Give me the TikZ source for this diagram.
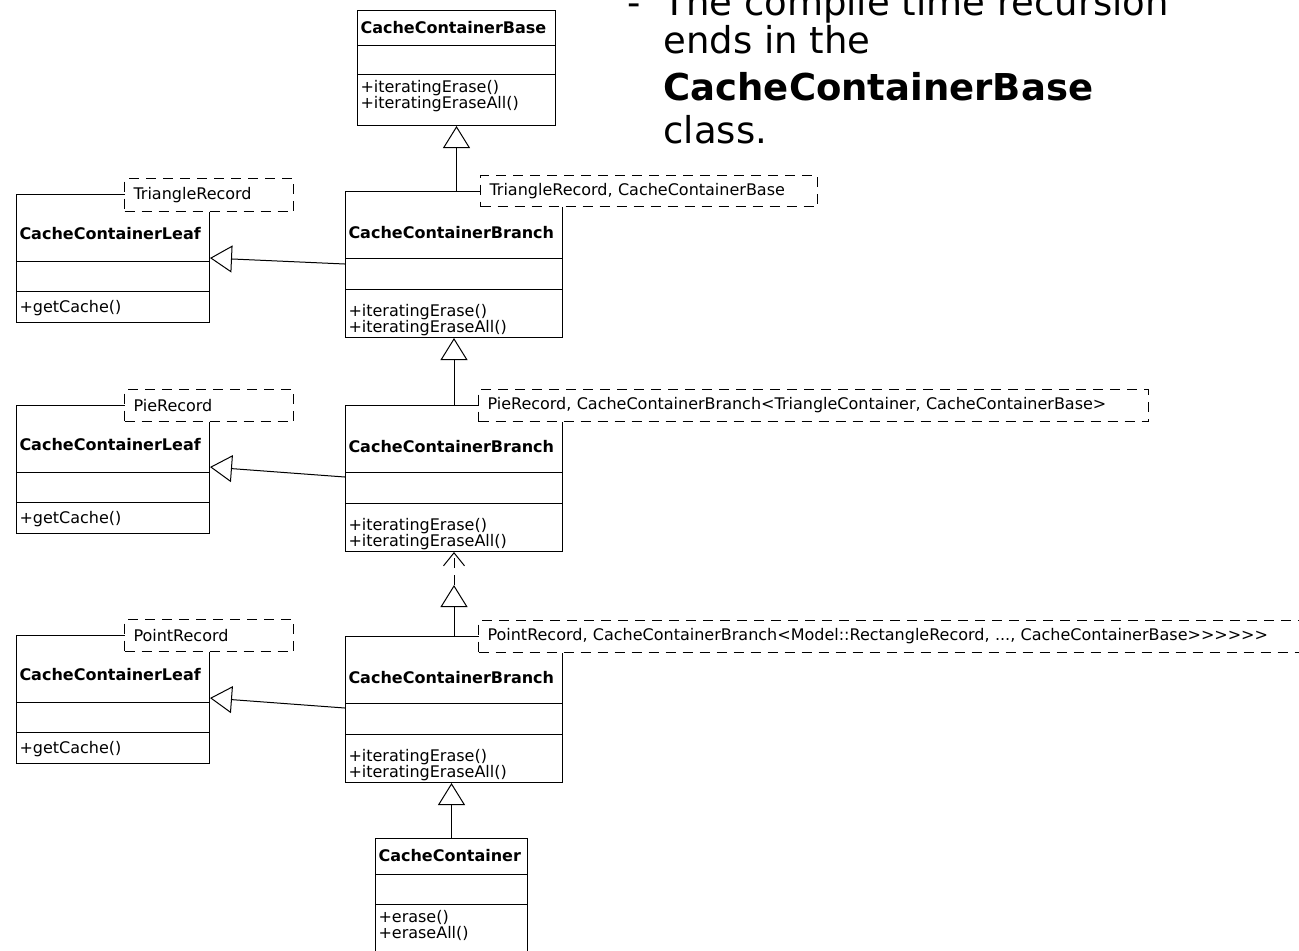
\documentclass[tikz,border=0pt]{standalone}
\usepackage{fontspec}
\setmainfont{DejaVu Sans}
\usetikzlibrary{arrows.meta,positioning,shapes.multipart}

\tikzset{
  cls/.style={draw, rectangle split, rectangle split parts=3, anchor=north west,
    inner xsep=1.5pt, inner ysep=0pt, align=left, font=\fontsize{8}{8}\selectfont},
  tmpl/.style={draw, dash pattern=on 5pt off 3.5pt, fill=white, anchor=north west,
    inner xsep=4.5pt, inner ysep=0pt, align=left, font=\fontsize{8}{8}\selectfont},
  gen/.style={-{Triangle[open, length=11pt, width=13.5pt]}},
  big/.style={anchor=base west, inner sep=0pt, font=\fontsize{18.5}{22}\selectfont},
}

\begin{document}
\begin{tikzpicture}[x=0.5pt, y=-0.5pt, line width=0.5pt]
        \useasboundingbox (0,0) rectangle (1299,950);
        \clip (0,0) rectangle (1299,950);

        % slide text
        \node (bul) [big] at (627,15) {-};
        \node (ln1) [big] at (663,15) {The compile time recursion};
        \node (ln2) [big] at (663,53) {ends in the};
        \node (ln3) [big] at (663,100) {\textbf{CacheContainerBase}};
        \node (ln4) [big] at (663,143) {class.};

        % classes
        \node (Base) [cls, text width=96pt] at (357,10)
            {\rule[-6pt]{0pt}{17pt}\textbf{CacheContainerBase}
             \nodepart{two}\rule{0pt}{14pt}
             \nodepart{three}\rule{0pt}{8.5pt}+iteratingErase()\\+iteratingEraseAll()\rule[-8.5pt]{0pt}{8.5pt}};

        \node (B1) [cls, text width=105.5pt] at (345,191)
            {\rule[-10pt]{0pt}{33pt}\textbf{CacheContainerBranch}
             \nodepart{two}\rule{0pt}{15pt}
             \nodepart{three}\rule{0pt}{13pt}+iteratingErase()\\+iteratingEraseAll()\rule[-2.5pt]{0pt}{2.5pt}};
        \node (B2) [cls, text width=105.5pt] at (345,405)
            {\rule[-10pt]{0pt}{33pt}\textbf{CacheContainerBranch}
             \nodepart{two}\rule{0pt}{15pt}
             \nodepart{three}\rule{0pt}{13pt}+iteratingErase()\\+iteratingEraseAll()\rule[-2.5pt]{0pt}{2.5pt}};
        \node (B3) [cls, text width=105.5pt] at (345,636)
            {\rule[-10pt]{0pt}{33pt}\textbf{CacheContainerBranch}
             \nodepart{two}\rule{0pt}{15pt}
             \nodepart{three}\rule{0pt}{13pt}+iteratingErase()\\+iteratingEraseAll()\rule[-2.5pt]{0pt}{2.5pt}};

        \node (L1) [cls, text width=93.5pt] at (16,194)
            {\rule[-11pt]{0pt}{33pt}\textbf{CacheContainerLeaf}
             \nodepart{two}\rule{0pt}{14.5pt}
             \nodepart{three}\rule{0pt}{10pt}+getCache()\rule[-5pt]{0pt}{5pt}};
        \node (L2) [cls, text width=93.5pt] at (16,405)
            {\rule[-11pt]{0pt}{33pt}\textbf{CacheContainerLeaf}
             \nodepart{two}\rule{0pt}{14.5pt}
             \nodepart{three}\rule{0pt}{10pt}+getCache()\rule[-5pt]{0pt}{5pt}};
        \node (L3) [cls, text width=93.5pt] at (16,635)
            {\rule[-11pt]{0pt}{33pt}\textbf{CacheContainerLeaf}
             \nodepart{two}\rule{0pt}{14.5pt}
             \nodepart{three}\rule{0pt}{10pt}+getCache()\rule[-5pt]{0pt}{5pt}};

        \node (CC) [cls, text width=73pt] at (375,838)
            {\rule[-6.5pt]{0pt}{17.5pt}\textbf{CacheContainer}
             \nodepart{two}\rule{0pt}{14.5pt}
             \nodepart{three}\rule{0pt}{8.5pt}+erase()\\+eraseAll()\rule[-10pt]{0pt}{10pt}};

        % template parameters
        \node (tL1) [tmpl, text width=75.5pt, minimum height=16.5pt] at (124,178) {TriangleRecord};
        \node (tL2) [tmpl, text width=75.5pt, minimum height=16pt] at (124,389) {PieRecord};
        \node (tL3) [tmpl, text width=75.5pt, minimum height=16pt] at (124,619) {PointRecord};
        \node (tB1) [tmpl, text width=159.5pt, minimum height=15.5pt] at (480,175)
            {TriangleRecord, CacheContainerBase};
        \node (tB2) [tmpl, text width=326pt, minimum height=16pt] at (478,389)
            {PieRecord, CacheContainerBranch<TriangleContainer, CacheContainerBase>};
        \node (tB3) [tmpl, text width=441pt, minimum height=16pt] at (478,620)
            {PointRecord, CacheContainerBranch<Model::RectangleRecord, ..., CacheContainerBase>\kern0pt>\kern0pt>\kern0pt>\kern0pt>\kern0pt>};

        % inheritance
        \draw[gen] (B1.north -| Base.south) -- (Base.south);
        \draw[gen] (B2.north) -- (B1.south);
        \coordinate (ell) at ([yshift=-16.5pt]B2.south);
        \draw[gen] (B3.north) -- (ell);
        \draw[dash pattern=on 5pt off 3.5pt, -{Straight Barb[length=6.5pt, width=10.5pt]}] (ell) -- (B2.south);
        \draw[gen] (CC.north) -- (CC.north |- B3.south);

        \draw[gen] ([yshift=-36.5pt]B1.north west) -- ([yshift=-32pt]L1.north east);
        \draw[gen] ([yshift=-36pt]B2.north west) -- ([yshift=-31pt]L2.north east);
        \draw[gen] ([yshift=-36pt]B3.north west) -- ([yshift=-31.5pt]L3.north east);
    \end{tikzpicture}
\end{document}
